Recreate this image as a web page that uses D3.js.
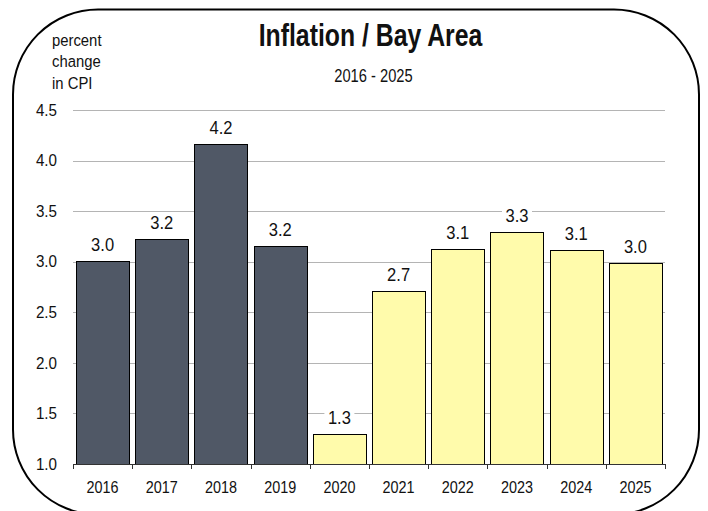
<!doctype html>
<html lang="en">
<head>
    <meta charset="utf-8">
    <script src="https://d3js.org/d3.v7.min.js"></script>
    <style type="text/css">
        body {
            padding: 0;
            margin: 0;
            background: #fff;
        }

        text {
            font-family: "Liberation Sans", Arial, sans-serif;
            fill: #111;
        }

        .grid line {
            stroke: #b4b4b4;
            stroke-width: 1px;
        }

        .bar {
            stroke: #000;
            stroke-width: 1px;
        }
    </style>
</head>
<body>
    <div id="chart"></div>
    <script type="text/javascript">

        // data
        var years = ["2016", "2017", "2018", "2019", "2020", "2021", "2022", "2023", "2024", "2025"];
        var cpiChange = [3.01, 3.22, 4.16, 3.16, 1.30, 2.71, 3.13, 3.29, 3.12, 2.99];
        var yTicks = [1.0, 1.5, 2.0, 2.5, 3.0, 3.5, 4.0, 4.5];
        var firstProjected = "2020";

        var width = 708,
            height = 511;

        // the original font is a narrow Arial, squeeze Liberation Sans to fake it
        function squeeze(sel, fx, fy, sx) {
            sel.attr("transform", function (d, i) {
                return "translate(" + fx(d, i) + "," + fy(d, i) + ") scale(" + sx + ",1)";
            });
        }

        var svg = d3.select("#chart").append("svg")
            .attr("width", width)
            .attr("height", height);

        // rounded frame, bottom runs off the page
        svg.append("rect")
            .attr("x", 13)
            .attr("y", 9.5)
            .attr("width", 686)
            .attr("height", 505)
            .attr("rx", 85)
            .attr("ry", 85)
            .attr("fill", "none")
            .attr("stroke", "#000")
            .attr("stroke-width", 2);

        var x = d3.scaleBand()
            .domain(years)
            .range([73, 665])
            .paddingInner(0.1)
            .paddingOuter(0.05);

        var y = d3.scaleLinear()
            .domain([1, 4.5])
            .range([464, 110]);

        // gridlines
        svg.append("g")
            .attr("class", "grid")
            .selectAll("line")
            .data(yTicks.filter(function (d) { return d > 1; }))
            .enter().append("line")
            .attr("x1", 73)
            .attr("x2", 665)
            .attr("y1", function (d) { return Math.round(y(d)) + 0.5; })
            .attr("y2", function (d) { return Math.round(y(d)) + 0.5; });

        // y tick labels
        svg.append("g")
            .selectAll("text")
            .data(yTicks)
            .enter().append("text")
            .attr("dy", "0.36em")
            .attr("text-anchor", "end")
            .style("font-size", "16px")
            .text(function (d) { return d3.format(".1f")(d); })
            .call(squeeze, function () { return 57; }, function (d) { return y(d); }, 0.95);

        // bars
        var data = years.map(function (yr, i) { return { year: yr, value: cpiChange[i] }; });
        var step = x.step();

        svg.append("g")
            .selectAll("rect")
            .data(data)
            .enter().append("rect")
            .attr("class", "bar")
            .attr("x", function (d) { return Math.round(x(d.year)) + 0.5; })
            .attr("y", function (d) { return Math.round(y(d.value)) + 0.5; })
            .attr("width", Math.round(x.bandwidth()))
            .attr("height", function (d) { return Math.round(y(1)) - Math.round(y(d.value)); })
            .attr("fill", function (d) { return +d.year >= +firstProjected ? "#fffbab" : "#505866"; });

        // value labels with white backing
        var labels = svg.append("g")
            .selectAll("g")
            .data(data)
            .enter().append("g")
            .attr("transform", function (d) {
                return "translate(" + (x(d.year) + x.bandwidth() / 2) + "," + (y(d.value) - 10) + ")";
            });

        labels.append("rect")
            .attr("x", -15)
            .attr("y", -16)
            .attr("width", 30)
            .attr("height", 19)
            .attr("fill", "#fff");

        labels.append("text")
            .attr("text-anchor", "middle")
            .attr("transform", "scale(0.92,1)")
            .style("font-size", "18px")
            .text(function (d) { return d3.format(".1f")(d.value); });

        // x axis
        svg.append("line")
            .attr("x1", 73)
            .attr("x2", 665)
            .attr("y1", 464.5)
            .attr("y2", 464.5)
            .attr("stroke", "#333");

        svg.append("g")
            .selectAll("line")
            .data(d3.range(years.length + 1))
            .enter().append("line")
            .attr("x1", function (i) { return Math.round(x.range()[0] + i * step) + 0.5; })
            .attr("x2", function (i) { return Math.round(x.range()[0] + i * step) + 0.5; })
            .attr("y1", 464)
            .attr("y2", 469)
            .attr("stroke", "#333");

        svg.append("g")
            .selectAll("text")
            .data(years)
            .enter().append("text")
            .attr("text-anchor", "middle")
            .style("font-size", "16px")
            .text(function (d) { return d; })
            .call(squeeze, function (d) { return x(d) + x.bandwidth() / 2; }, function () { return 493; }, 0.9);

        // titles
        svg.append("text")
            .datum("Inflation / Bay Area")
            .attr("text-anchor", "middle")
            .style("font-size", "31px")
            .style("font-weight", "bold")
            .text(function (d) { return d; })
            .call(squeeze, function () { return 370.5; }, function () { return 45.5; }, 0.8);

        svg.append("text")
            .datum("2016 - 2025")
            .attr("text-anchor", "middle")
            .style("font-size", "17.5px")
            .text(function (d) { return d; })
            .call(squeeze, function () { return 373.5; }, function () { return 81.5; }, 0.84);

        var unit = svg.append("text")
            .datum("unit")
            .style("font-size", "16.5px")
            .call(squeeze, function () { return 52; }, function () { return 45.5; }, 0.9);

        unit.selectAll("tspan")
            .data(["percent", "change", "in CPI"])
            .enter().append("tspan")
            .attr("x", 0)
            .attr("y", function (d, i) { return i * 21.7; })
            .text(function (d) { return d; });

    </script>
</body>
</html>
